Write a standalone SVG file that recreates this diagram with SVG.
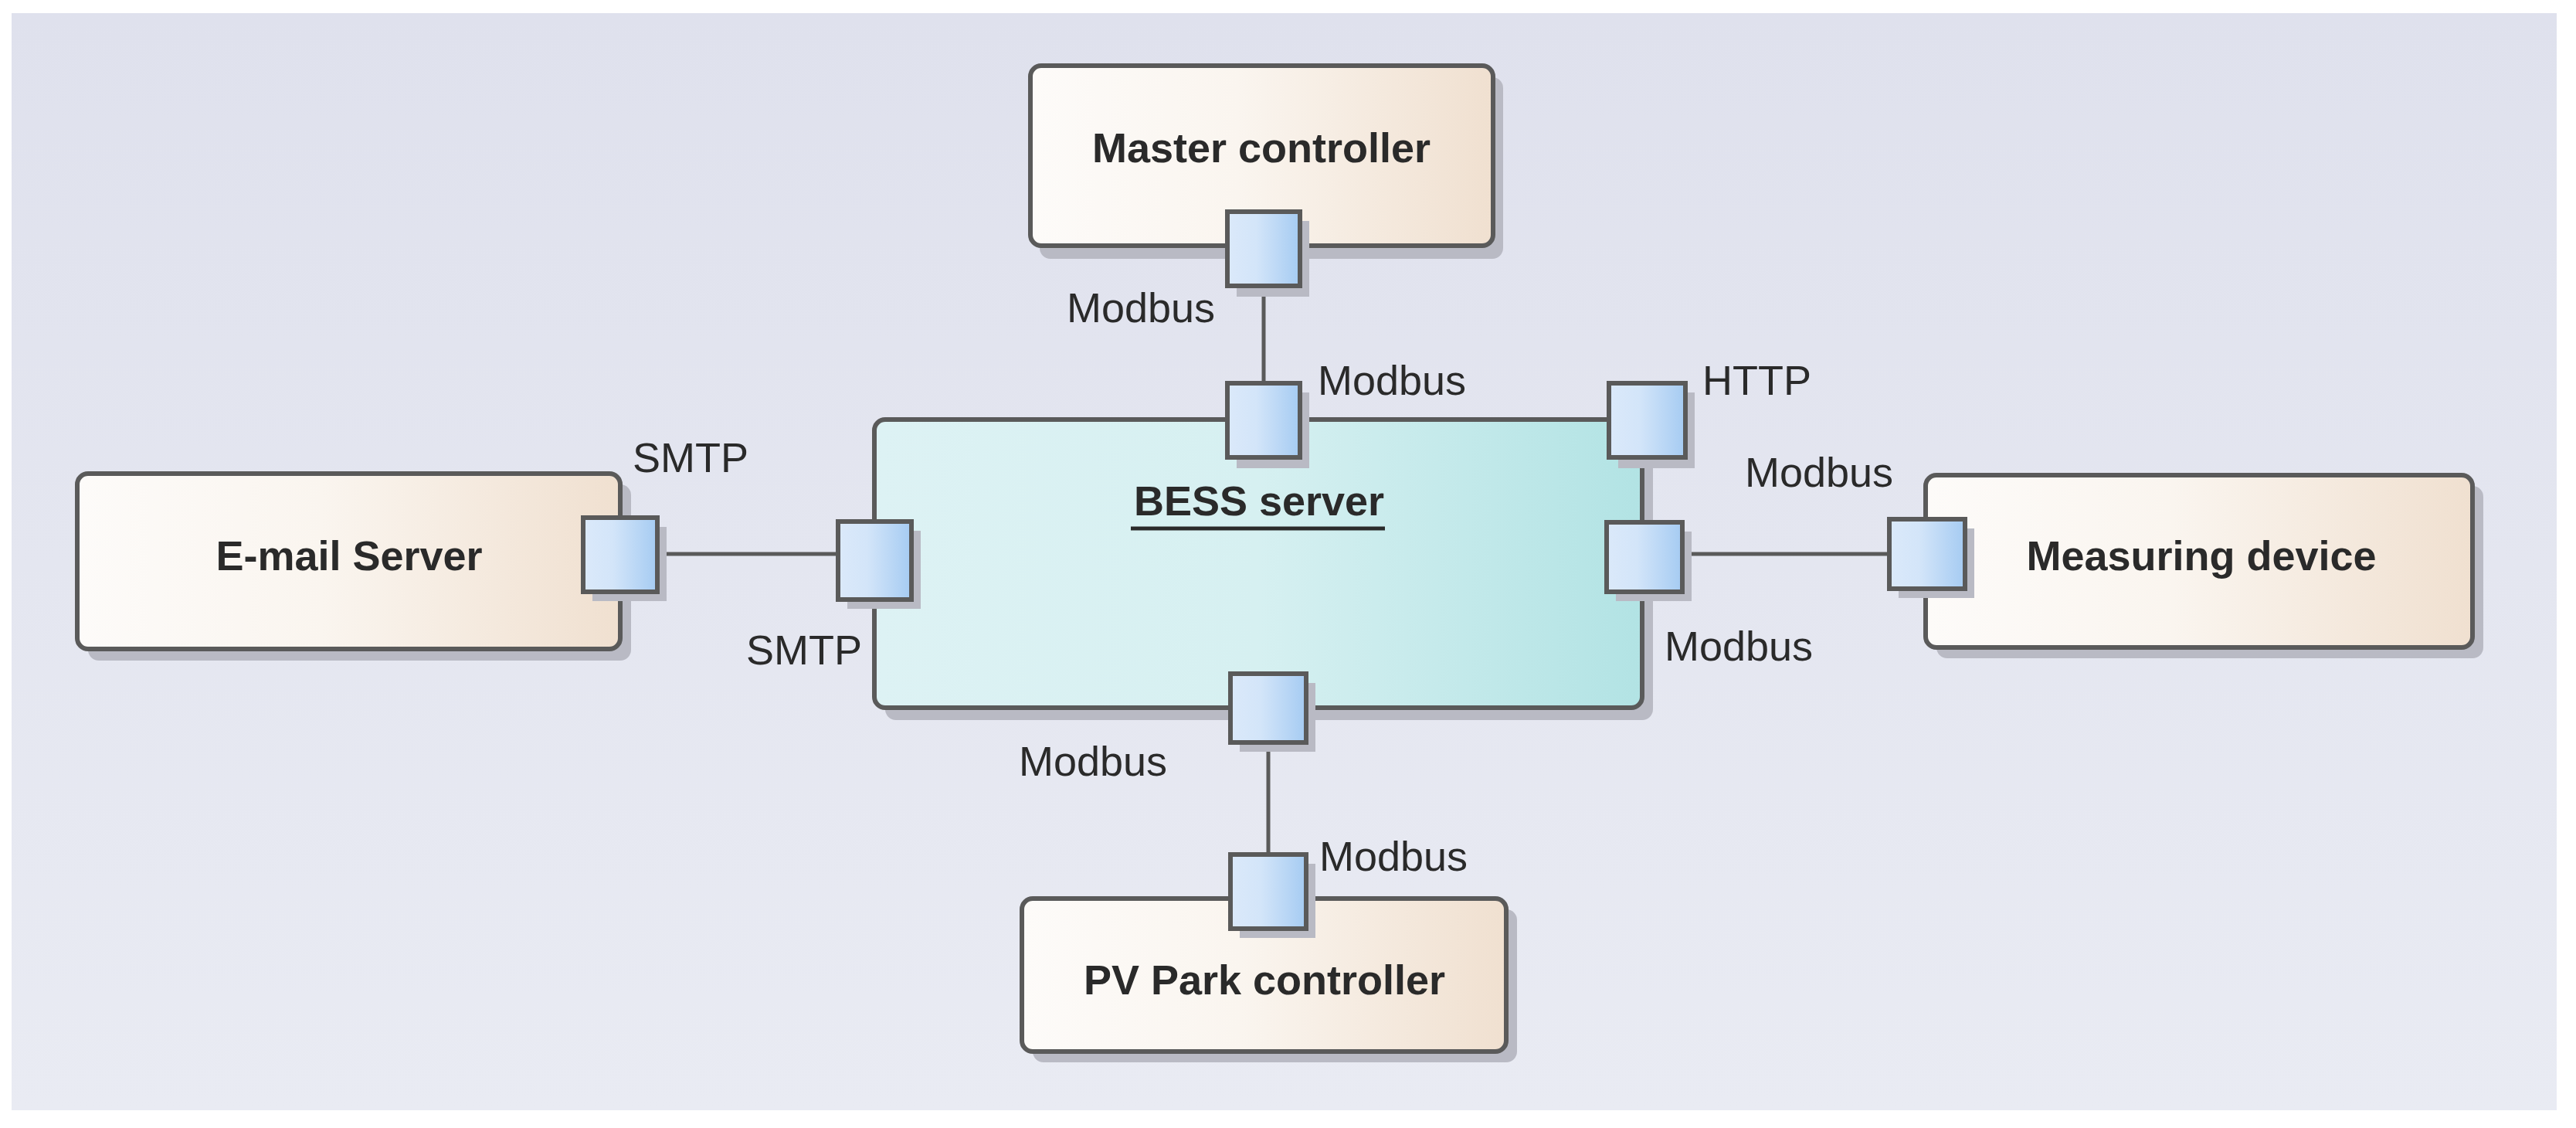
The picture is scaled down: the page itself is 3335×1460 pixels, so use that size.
<svg xmlns="http://www.w3.org/2000/svg" width="3335" height="1460" viewBox="0 0 3335 1460">
<defs>
<linearGradient id="bg" x1="0" y1="0" x2="0" y2="1"><stop offset="0" stop-color="#dfe1ed"/><stop offset="1" stop-color="#e9ebf3"/></linearGradient>
<linearGradient id="comp" x1="0" y1="0" x2="1" y2="0"><stop offset="0" stop-color="#fdfbf9"/><stop offset="0.45" stop-color="#faf5ef"/><stop offset="1" stop-color="#f0e0d0"/></linearGradient>
<linearGradient id="bess" x1="0" y1="0" x2="1" y2="0"><stop offset="0" stop-color="#ddf2f4"/><stop offset="0.5" stop-color="#d6f0f1"/><stop offset="1" stop-color="#b2e3e4"/></linearGradient>
<linearGradient id="port" x1="0" y1="0" x2="1" y2="0"><stop offset="0" stop-color="#dbe9fa"/><stop offset="0.4" stop-color="#d3e5f9"/><stop offset="1" stop-color="#a5cbf2"/></linearGradient>
</defs>
<style>
.box{stroke:#5a5a5a;stroke-width:6}
.sh{fill:#b9bac4}
.port{fill:url(#port);stroke:#5a5a5a;stroke-width:6}
.t{font-family:"Liberation Sans",Arial,sans-serif;font-size:54px;fill:#2a2a2a}
.b{font-weight:bold;font-size:54px;text-anchor:middle}
.ln{stroke:#5a5a5a;stroke-width:5;fill:none}
</style>
<rect width="3335" height="1460" fill="#fff"/>
<rect x="15" y="17" width="3295" height="1420" fill="url(#bg)"/>
<g id="connectors">
<line class="ln" x1="1636" y1="370" x2="1636" y2="496"/>
<line class="ln" x1="851" y1="717" x2="1085" y2="717"/>
<line class="ln" x1="2178" y1="717" x2="2446" y2="717"/>
<line class="ln" x1="1642" y1="961" x2="1642" y2="1106"/>
</g>
<g id="master">
<rect class="sh" x="1346" y="100" width="600" height="235" rx="14"/>
<rect class="box" x="1334" y="85" width="599" height="233" rx="14" fill="url(#comp)"/>
<text class="t b" x="1633" y="210">Master controller</text>
<rect class="sh" x="1601" y="286" width="94" height="98"/>
<rect class="port" x="1589" y="274" width="94" height="96"/>
<text class="t" x="1381" y="417">Modbus</text>
</g>
<g id="email">
<rect class="sh" x="114" y="627" width="703" height="228" rx="14"/>
<rect class="box" x="100" y="613" width="703" height="227" rx="14" fill="url(#comp)"/>
<text class="t b" x="452" y="738">E-mail Server</text>
<rect class="sh" x="767" y="682" width="96" height="96"/>
<rect class="port" x="755" y="670" width="96" height="96"/>
<text class="t" x="819" y="611">SMTP</text>
</g>
<g id="bess-server">
<rect class="sh" x="1146" y="557" width="994" height="375" rx="14"/>
<rect class="box" x="1132" y="543" width="994" height="373" rx="14" fill="url(#bess)"/>
<text class="t" x="1630" y="667" text-anchor="middle" font-weight="bold">BESS server</text>
<line x1="1464" y1="684" x2="1793" y2="684" stroke="#2a2a2a" stroke-width="5"/>
<rect class="sh" x="1601" y="508" width="94" height="98"/>
<rect class="port" x="1589" y="496" width="94" height="96"/>
<text class="t" x="1706" y="511">Modbus</text>
<rect class="sh" x="2095" y="508" width="99" height="98"/>
<rect class="port" x="2083" y="496" width="99" height="96"/>
<text class="t" x="2204" y="511">HTTP</text>
<rect class="sh" x="1097" y="687" width="95" height="101"/>
<rect class="port" x="1085" y="675" width="95" height="101"/>
<text class="t" x="966" y="860">SMTP</text>
<rect class="sh" x="2092" y="688" width="98" height="90"/>
<rect class="port" x="2080" y="676" width="98" height="90"/>
<text class="t" x="2155" y="855">Modbus</text>
<rect class="sh" x="1605" y="884" width="98" height="89"/>
<rect class="port" x="1593" y="872" width="98" height="89"/>
<text class="t" x="1319" y="1004">Modbus</text>
</g>
<g id="measuring">
<rect class="sh" x="2507" y="629" width="708" height="223" rx="14"/>
<rect class="box" x="2493" y="615" width="708" height="223" rx="14" fill="url(#comp)"/>
<text class="t b" x="2850" y="738">Measuring device</text>
<rect class="sh" x="2458" y="684" width="98" height="90"/>
<rect class="port" x="2446" y="672" width="98" height="90"/>
<text class="t" x="2259" y="630">Modbus</text>
</g>
<g id="pv">
<rect class="sh" x="1337" y="1177" width="627" height="198" rx="14"/>
<rect class="box" x="1323" y="1163" width="627" height="198" rx="14" fill="url(#comp)"/>
<text class="t b" x="1637" y="1287">PV Park controller</text>
<rect class="sh" x="1605" y="1118" width="98" height="96"/>
<rect class="port" x="1593" y="1106" width="98" height="96"/>
<text class="t" x="1708" y="1127">Modbus</text>
</g>
</svg>
